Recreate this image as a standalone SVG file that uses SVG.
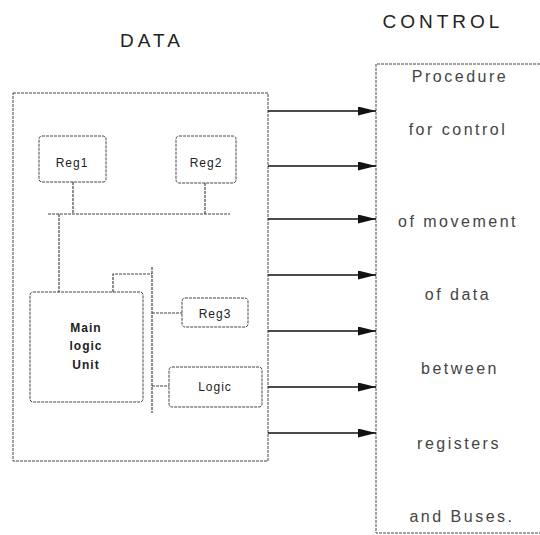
<svg xmlns="http://www.w3.org/2000/svg" width="540" height="535" viewBox="0 0 540 535">
<style>
.box{fill:none;stroke:#444;stroke-width:1;stroke-dasharray:3 1}
.wire{fill:none;stroke:#444;stroke-width:1.2;stroke-dasharray:3 1}
.arrow{fill:none;stroke:#111;stroke-width:1.6;marker-end:url(#ah)}
.title{font-family:"Liberation Sans",Arial,sans-serif;font-size:19px;letter-spacing:4px;fill:#222;text-anchor:middle}
.ctl{font-family:"Liberation Sans",Arial,sans-serif;font-size:16px;letter-spacing:2.5px;fill:#444;text-anchor:middle}
.lbl{font-family:"Liberation Sans",Arial,sans-serif;font-size:12px;letter-spacing:1px;fill:#222;text-anchor:middle}
.bold{font-weight:bold}
</style>
<defs>
<marker id="ah" viewBox="0 0 18 9" refX="18" refY="4.5" markerWidth="18" markerHeight="9" markerUnits="userSpaceOnUse" orient="auto">
<path d="M0,0 L18,4.5 L0,9 Z" fill="#111"/>
</marker>
</defs>
<rect width="540" height="535" fill="#fff"/>
<text class="title" x="152" y="47">DATA</text>
<text class="title" x="443" y="28">CONTROL</text>
<g id="data-box"><rect class="box" x="13" y="93" width="255" height="368"/></g>
<g id="control-box">
<path class="box" d="M540,64 H376 V533 H540"/>
<text class="ctl" x="460" y="82">Procedure</text>
<text class="ctl" x="458" y="135">for control</text>
<text class="ctl" x="458" y="227">of movement</text>
<text class="ctl" x="458" y="300">of data</text>
<text class="ctl" x="460" y="374">between</text>
<text class="ctl" x="459" y="449">registers</text>
<text class="ctl" x="462" y="522">and Buses.</text>
</g>
<g id="reg1"><rect class="box" x="39" y="136" width="67" height="46" rx="3"/><text class="lbl" x="72" y="167">Reg1</text></g>
<g id="reg2"><rect class="box" x="176" y="136" width="60" height="47" rx="3"/><text class="lbl" x="206" y="167">Reg2</text></g>
<g id="main-logic-unit"><rect class="box" x="30" y="292" width="113" height="110" rx="3"/>
<text class="lbl bold" x="86" y="332">Main</text><text class="lbl bold" x="86" y="350">logic</text><text class="lbl bold" x="86" y="369">Unit</text></g>
<g id="reg3"><rect class="box" x="182" y="298" width="66" height="29" rx="3"/><text class="lbl" x="215" y="318">Reg3</text></g>
<g id="logic"><rect class="box" x="169" y="367" width="93" height="40" rx="3"/><text class="lbl" x="215" y="391">Logic</text></g>
<g id="connectors">
<path class="wire" d="M73,182 V214 M205,183 V214 M48,214 H230 M59,214 V292"/>
<path class="wire" d="M113,292 V274 H152 M152,267 V413 M152,313 H182 M152,386 H169"/>
<line class="arrow" x1="268" y1="111" x2="376" y2="111"/>
<line class="arrow" x1="268" y1="166" x2="376" y2="166"/>
<line class="arrow" x1="268" y1="219" x2="376" y2="219"/>
<line class="arrow" x1="268" y1="275" x2="376" y2="275"/>
<line class="arrow" x1="268" y1="331" x2="376" y2="331"/>
<line class="arrow" x1="268" y1="387" x2="376" y2="387"/>
<line class="arrow" x1="268" y1="433" x2="376" y2="433"/>
</g>
</svg>
